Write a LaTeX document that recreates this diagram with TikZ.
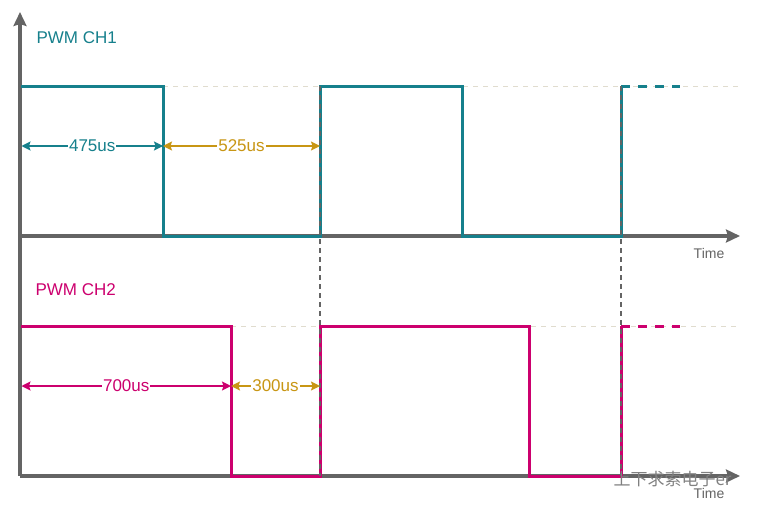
\documentclass[tikz,border=0pt]{standalone}
\usepackage{fontspec}
\setmainfont{Liberation Sans}
\newfontfamily\cjkfont{Noto Sans CJK SC}
\usetikzlibrary{arrows.meta, positioning, calc}

\definecolor{axisgray}{RGB}{100,100,100}
\definecolor{chone}{RGB}{22,128,140}
\definecolor{chtwo}{RGB}{204,0,110}
\definecolor{gapgold}{RGB}{200,150,20}
\definecolor{levelgray}{RGB}{224,220,206}

\begin{document}
\begin{tikzpicture}[
    x=1pt, y=-1pt,
    axis/.style = {draw=axisgray, line width=3.2pt, -{Stealth[length=14pt, width=13pt, inset=2pt]}},
    wave/.style = {line width=3pt, line join=miter},
    tail/.style = {line width=3pt, dash pattern=on 9pt off 8pt},
    level/.style = {draw=levelgray, line width=1pt, dash pattern=on 5pt off 5pt},
    sync/.style = {draw=axisgray, line width=1.3pt, dash pattern=on 5pt off 4pt},
    dim/.style = {line width=1.5pt, {Stealth[length=9pt, width=9pt, inset=1.5pt]}-{Stealth[length=9pt, width=9pt, inset=1.5pt]}},
    dimlabel/.style = {fill=white, inner sep=1pt, font=\fontsize{17}{17}\selectfont},
    chname/.style = {anchor=west, font=\fontsize{17}{17}\selectfont},
    timelabel/.style = {text=axisgray, font=\fontsize{14}{14}\selectfont}
]
    \useasboundingbox (0,0) rectangle (757,511);

    % Axes
    \coordinate (origin) at (20,476);
    \coordinate (ytop) at (20,12);
    \coordinate (zero1) at (20,236);
    \coordinate (tend1) at (740,236);
    \coordinate (tend2) at (740,476);

    % Level guides
    \draw [level] (163,86) -- (740,86);
    \draw [level] (231,326) -- (740,326);

    \draw [axis] (zero1) -- (tend1);
    \draw [axis] (origin) -- (tend2);
    \draw [axis] (origin) -- (ytop);

    % PWM CH1
    \draw [wave, chone] (21,86) -- (163,86) -- (163,236) -- (320,236) -- (320,86) -- (462,86) -- (462,236) -- (621,236) -- (621,86);
    \draw [tail, chone] (621,86) -- (680,86);

    % PWM CH2
    \draw [wave, chtwo] (21,326) -- (231,326) -- (231,476) -- (320,476) -- (320,326) -- (529,326) -- (529,476) -- (621,476) -- (621,326);
    \draw [tail, chtwo] (621,326) -- (680,326);

    % Period markers
    \coordinate (p1top) at (320,86);
    \coordinate (p1bot) at (320,476);
    \coordinate (p2top) at (621,86);
    \coordinate (p2bot) at (621,476);
    \draw [sync] (p1top) -- (p1bot);
    \draw [sync] (p2top) -- (p2bot);

    % Labels
    \node [chname, text=chone] (name1) at (33,38) {PWM CH1};
    \node [chname, text=chtwo] (name2) at (32,290) {PWM CH2};
    \node [timelabel] (time1) at (709,253) {Time};
    \node [timelabel] (time2) at (709,493) {Time};

    % Durations
    \coordinate (a0) at (21.5,146);
    \coordinate (a1) at (163,146);
    \coordinate (a2) at (320,146);
    \coordinate (b0) at (21.5,386);
    \coordinate (b1) at (231,386);
    \coordinate (b2) at (320,386);
    \draw [dim, chone] (a0) -- node [dimlabel, text=chone] (high1) {475us} (a1);
    \draw [dim, gapgold] (a1) -- node [dimlabel, text=gapgold] (low1) {525us} (a2);
    \draw [dim, chtwo] (b0) -- node [dimlabel, text=chtwo] (high2) {700us} (b1);
    \draw [dim, gapgold] (b1) -- node [dimlabel, text=gapgold] (low2) {300us} (b2);

    % Watermark
    \node [text=black!50, font=\cjkfont\fontsize{17}{17}\selectfont, anchor=west] (mark) at (610,479) {上下求索电子er};
\end{tikzpicture}
\end{document}
